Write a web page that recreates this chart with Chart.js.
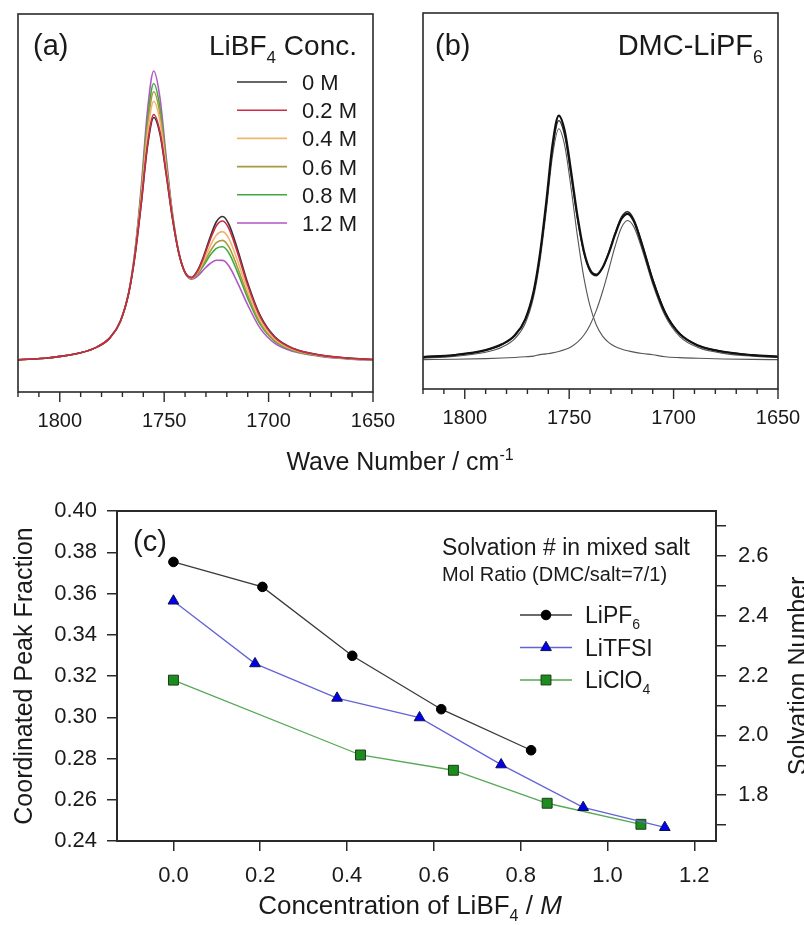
<!DOCTYPE html>
<html>
<head>
<meta charset="utf-8">
<title>DMC carbonyl band and solvation number</title>
<script src="https://cdn.jsdelivr.net/npm/chart.js@4.4.1/dist/chart.umd.min.js"></script>
<style>
  html, body { margin: 0; padding: 0; background: #fff; }
  #figure { position: relative; width: 804px; height: 925px; overflow: hidden; background: #fff; }
  #figure canvas { position: absolute; }
</style>
</head>
<body>
<div id="figure">
  <canvas id="spectraA" width="804" height="480" style="left:0;top:0"></canvas>
  <canvas id="spectraB" width="404" height="440" style="left:400px;top:0"></canvas>
  <canvas id="solvation" width="804" height="435" style="left:0;top:490px"></canvas>
</div>
<script>
// ---- data ----

// wave numbers (cm-1) where the spectra were sampled
var waveNumbers = [1820, 1805, 1790, 1782, 1776, 1771, 1767, 1764, 1761, 1758, 1755, 1752, 1749, 1746, 1743,
  1740, 1737, 1734, 1731, 1728, 1725, 1722, 1719, 1715, 1710, 1704, 1697, 1688, 1676, 1662, 1650];

// (a) absorbance (arbitrary units) for each LiBF4 concentration
var conc0M = [8.49, 9.05, 10.36, 11.94, 14.32, 18.67, 26.08, 35.95, 49.62, 64.83, 72.62, 68.17, 57.41, 45.77, 36.74,
  31.64, 30.31, 32.18, 36.11, 40.95, 45.05, 46.42, 44.36, 37.99, 28.83, 20.19, 14.60, 11.50, 9.87, 9.00, 8.60];
var conc02M = [8.49, 9.05, 10.36, 11.94, 14.32, 18.67, 26.09, 36.03, 49.92, 65.45, 73.42, 68.79, 57.71, 45.85, 36.75,
  31.63, 30.26, 32.02, 35.73, 40.23, 43.99, 45.22, 43.22, 37.07, 28.23, 19.84, 14.42, 11.42, 9.83, 8.98, 8.58];
var conc04M = [8.49, 9.05, 10.36, 11.94, 14.32, 18.67, 26.16, 36.41, 51.21, 68.18, 76.92, 71.52, 59.00, 46.23, 36.82,
  31.60, 30.15, 31.66, 34.84, 38.55, 41.53, 42.42, 40.56, 34.92, 26.83, 19.03, 14.00, 11.22, 9.74, 8.92, 8.55];
var conc06M = [8.49, 9.05, 10.36, 11.94, 14.32, 18.67, 26.20, 36.67, 52.13, 70.13, 79.42, 73.47, 59.92, 46.49, 36.86,
  31.58, 30.06, 31.36, 34.11, 37.17, 39.51, 40.12, 38.37, 33.15, 25.68, 18.36, 13.65, 11.06, 9.67, 8.87, 8.51];
var conc08M = [8.49, 9.05, 10.36, 11.94, 14.32, 18.67, 26.24, 36.90, 52.94, 71.84, 81.62, 75.18, 60.73, 46.72, 36.90,
  31.56, 29.99, 31.14, 33.57, 36.15, 38.01, 38.42, 36.76, 31.85, 24.83, 17.87, 13.40, 10.94, 9.61, 8.84, 8.49];
var conc12M = [8.49, 9.05, 10.36, 11.94, 14.32, 18.67, 26.30, 37.25, 54.16, 74.41, 84.92, 77.75, 61.95, 47.07, 36.96,
  31.52, 29.85, 30.67, 32.42, 33.99, 34.84, 34.82, 33.34, 29.08, 23.03, 16.83, 12.86, 10.69, 9.50, 8.77, 8.44];
var concLabels = ['0 M', '0.2 M', '0.4 M', '0.6 M', '0.8 M', '1.2 M'];

// (b) DMC-LiPF6: measured band, fitted sum and the two fitted peaks
var dmcMeasured = [8.50, 9.05, 10.35, 11.95, 14.30, 18.60, 26.00, 35.90, 49.60, 64.90, 72.70, 68.30, 57.50, 45.90, 36.80,
  31.70, 30.40, 32.30, 36.20, 41.10, 45.20, 46.60, 44.60, 38.10, 28.90, 20.20, 14.60, 11.50, 9.90, 9.00, 8.60];
var dmcFit = [8.48, 9.04, 10.33, 11.88, 14.21, 18.48, 25.75, 35.43, 48.83, 63.75, 71.38, 67.04, 56.51, 45.11, 36.27,
  31.29, 30.11, 32.19, 36.38, 41.46, 45.71, 47.15, 45.06, 38.60, 29.24, 20.42, 14.72, 11.57, 9.92, 9.02, 8.61];
var dmcPeak1 = [8.22, 8.67, 9.79, 11.19, 13.37, 17.47, 24.56, 34.08, 47.28, 61.95, 69.20, 64.35, 53.05, 40.46, 29.78,
  22.04, 17.01, 14.06, 12.33, 11.30, 10.63, 10.15, 9.80, 9.44, 9.11, 8.58, 8.35, 8.16, 7.99, 7.87, 7.80];
var dmcPeak2 = [7.81, 7.92, 8.09, 8.24, 8.39, 8.56, 8.74, 9.15, 9.35, 9.60, 9.98, 10.49, 11.26, 12.45, 14.29,
  17.05, 20.90, 25.93, 31.85, 37.96, 42.88, 44.80, 43.06, 36.96, 27.93, 19.39, 13.92, 10.96, 9.48, 8.70, 8.36];

// (c) coordinated peak fraction vs LiBF4 concentration (M)
var concLiPF6 = [0.0, 0.205, 0.412, 0.617, 0.824];
var fracLiPF6 = [0.3753, 0.3632, 0.3298, 0.3039, 0.2840];
var concLiTFSI = [0.0, 0.188, 0.377, 0.567, 0.755, 0.944, 1.132];
var fracLiTFSI = [0.3564, 0.3260, 0.3093, 0.2998, 0.2770, 0.2563, 0.2466];
var concLiClO4 = [0.0, 0.431, 0.645, 0.861, 1.077];
var fracLiClO4 = [0.3180, 0.2817, 0.2743, 0.2583, 0.2481];

// tick labels
var waveTicks = [1800, 1750, 1700, 1650];
var waveMinorTicks = [1820, 1810, 1800, 1790, 1780, 1770, 1760, 1750, 1740, 1730, 1720, 1710, 1700, 1690, 1680, 1670, 1660, 1650];
var concTicks = [0.0, 0.2, 0.4, 0.6, 0.8, 1.0, 1.2];
var fracTicks = [0.24, 0.26, 0.28, 0.30, 0.32, 0.34, 0.36, 0.38, 0.40];
var solvTicks = [1.8, 2.0, 2.2, 2.4, 2.6];
var solvMinorTicks = [1.7, 1.8, 1.9, 2.0, 2.1, 2.2, 2.3, 2.4, 2.5, 2.6, 2.7];

// ---- styling ----
var FONT = "'Liberation Sans', Arial, Helvetica, sans-serif";
var INK = '#1a1a1a';
var AXIS = '#2a2a2a';
var concColors = ['#333333', '#cc2a45', '#f2b56e', '#a99a3c', '#3fa93f', '#b157c6'];
// 0.2 M sits on top of the bundle, then 0 M, then the rest
var concOrder = [1, 0, 2, 3, 4, 5];

Chart.defaults.font.family = FONT;
Chart.defaults.color = INK;
Chart.defaults.animation = false;
Chart.defaults.events = [];
Chart.defaults.plugins.legend.display = false;
Chart.defaults.plugins.tooltip.enabled = false;

// text with sub/superscript and italic runs; y is the baseline
function drawRich(ctx, parts, x, y, size, align) {
  ctx.save();
  function fontFor(kind) {
    var s = (kind === 'sub' || kind === 'sup') ? Math.round(size * 0.62) : size;
    return (kind === 'i' ? 'italic ' : '') + s + 'px ' + FONT;
  }
  var w = 0;
  parts.forEach(function (p) {
    ctx.font = fontFor(p[1]);
    w += ctx.measureText(p[0]).width;
  });
  var cx = align === 'right' ? x - w : (align === 'center' ? x - w / 2 : x);
  ctx.fillStyle = INK;
  ctx.textBaseline = 'alphabetic';
  ctx.textAlign = 'left';
  parts.forEach(function (p) {
    ctx.font = fontFor(p[1]);
    var dy = p[1] === 'sub' ? size * 0.28 : (p[1] === 'sup' ? -size * 0.42 : 0);
    ctx.fillText(p[0], cx, y + dy);
    cx += ctx.measureText(p[0]).width;
  });
  ctx.restore();
}

function drawRotated(ctx, parts, cx, cy, size) {
  ctx.save();
  ctx.translate(cx, cy);
  ctx.rotate(-Math.PI / 2);
  drawRich(ctx, parts, 0, size * 0.36, size, 'center');
  ctx.restore();
}

function drawMarker(ctx, style, x, y, r, fill, edge) {
  ctx.save();
  ctx.fillStyle = fill;
  ctx.strokeStyle = edge;
  ctx.lineWidth = 1;
  ctx.beginPath();
  if (style === 'circle') {
    ctx.arc(x, y, r, 0, Math.PI * 2);
  } else if (style === 'triangle') {
    ctx.moveTo(x, y - r);
    ctx.lineTo(x + r * 0.866, y + r / 2);
    ctx.lineTo(x - r * 0.866, y + r / 2);
    ctx.closePath();
  } else {
    var h = r * Math.SQRT1_2;
    ctx.rect(x - h, y - h, 2 * h, 2 * h);
  }
  ctx.fill();
  ctx.stroke();
  ctx.restore();
}

// keep the plot boxes where the layout padding puts them
function noLabelPadding(s) {
  s.paddingLeft = 0;
  s.paddingRight = 0;
  s.paddingTop = 0;
  s.paddingBottom = 0;
}

function framePlugin(width) {
  return {
    id: 'frame',
    afterDatasetsDraw: function (chart) {
      var a = chart.chartArea, ctx = chart.ctx;
      ctx.save();
      ctx.strokeStyle = AXIS;
      ctx.lineWidth = width;
      ctx.strokeRect(a.left, a.top, a.right - a.left, a.bottom - a.top);
      ctx.restore();
    }
  };
}

// major and minor tick marks under the wave number axis
var waveTickPlugin = {
  id: 'waveTicks',
  afterDraw: function (chart) {
    var s = chart.scales.x, ctx = chart.ctx, b = chart.chartArea.bottom;
    ctx.save();
    ctx.strokeStyle = AXIS;
    ctx.lineWidth = 1.4;
    waveMinorTicks.forEach(function (v) {
      var px = s.getPixelForValue(v);
      var len = waveTicks.indexOf(v) >= 0 ? 10 : 5;
      ctx.beginPath();
      ctx.moveTo(px, b);
      ctx.lineTo(px, b + len);
      ctx.stroke();
    });
    ctx.restore();
  }
};

function spectrumChart(id, datasets, pad, axisHeight, textPlugin) {
  return new Chart(document.getElementById(id), {
    type: 'line',
    data: { datasets: datasets },
    options: {
      responsive: false,
      devicePixelRatio: 1,
      layout: { padding: pad },
      elements: {
        point: { radius: 0 },
        line: { cubicInterpolationMode: 'monotone', borderJoinStyle: 'round', fill: false }
      },
      scales: {
        x: {
          type: 'linear', reverse: true, min: 1650, max: 1820,
          afterBuildTicks: function (s) { s.ticks = waveMinorTicks.map(function (v) { return { value: v }; }); },
          afterFit: function (s) { s.height = axisHeight; noLabelPadding(s); },
          grid: { display: false, drawTicks: false },
          border: { display: false },
          ticks: {
            autoSkip: false, maxRotation: 0, padding: 17, color: INK, font: { size: 20 },
            callback: function (v) { return waveTicks.indexOf(v) >= 0 ? String(v) : ''; }
          }
        },
        y: { display: false, min: 0, max: 100 }
      }
    },
    plugins: [framePlugin(1.6), waveTickPlugin, textPlugin]
  });
}

function toPoints(values) {
  return waveNumbers.map(function (w, i) { return { x: w, y: values[i] }; });
}

// ---- (a) ----
var concSeries = [conc0M, conc02M, conc04M, conc06M, conc08M, conc12M];
spectrumChart('spectraA', concSeries.map(function (d, i) {
  return { label: concLabels[i], data: toPoints(d), borderColor: concColors[i], borderWidth: 1.6, order: concOrder[i] };
}), { left: 18, top: 14, right: 431, bottom: 0 }, 88, {
  id: 'textA',
  afterDraw: function (chart) {
    var ctx = chart.ctx, a = chart.chartArea;
    drawRich(ctx, [['(a)']], a.left + 15, 55, 29, 'left');
    drawRich(ctx, [['LiBF'], ['4', 'sub'], [' Conc.']], a.right - 16, 55, 28, 'right');
    concLabels.forEach(function (lab, i) {
      var y = 82 + i * 28.2;
      ctx.save();
      ctx.strokeStyle = concColors[i];
      ctx.lineWidth = 1.6;
      ctx.beginPath();
      ctx.moveTo(a.left + 219, y);
      ctx.lineTo(a.left + 269, y);
      ctx.stroke();
      ctx.restore();
      drawRich(ctx, [[lab]], a.left + 284, y + 8, 22, 'left');
    });
    drawRich(ctx, [['Wave Number / cm'], ['-1', 'sup']], 400, 470, 25, 'center');
  }
});

// ---- (b) ----
spectrumChart('spectraB', [
  { label: 'measured', data: toPoints(dmcMeasured), borderColor: '#111111', borderWidth: 2.2 },
  { label: 'fit', data: toPoints(dmcFit), borderColor: '#2b2b2b', borderWidth: 1.4 },
  { label: 'peak 1', data: toPoints(dmcPeak1), borderColor: '#555555', borderWidth: 1.1 },
  { label: 'peak 2', data: toPoints(dmcPeak2), borderColor: '#555555', borderWidth: 1.1 }
], { left: 23, top: 13, right: 26, bottom: 0 }, 51, {
  id: 'textB',
  afterDraw: function (chart) {
    var ctx = chart.ctx, a = chart.chartArea;
    drawRich(ctx, [['(b)']], a.left + 12, 55, 29, 'left');
    drawRich(ctx, [['DMC-LiPF'], ['6', 'sub']], a.right - 15, 55, 29, 'right');
  }
});

// ---- (c) ----
var saltSeries = [
  { name: [['LiPF'], ['6', 'sub']], conc: concLiPF6, frac: fracLiPF6, line: '#3a3a3a', fill: '#000000', edge: '#000000', style: 'circle', r: 4.8 },
  { name: [['LiTFSI']], conc: concLiTFSI, frac: fracLiTFSI, line: '#6464d6', fill: '#0000ee', edge: '#10104a', style: 'triangle', r: 6.2 },
  { name: [['LiClO'], ['4', 'sub']], conc: concLiClO4, frac: fracLiClO4, line: '#55a855', fill: '#1c8c1c', edge: '#1d3a1d', style: 'rect', r: 7 }
];

var tickGrid = { drawOnChartArea: false, drawTicks: true, tickLength: 10, color: AXIS, lineWidth: 1.5 };

new Chart(document.getElementById('solvation'), {
  type: 'line',
  data: {
    datasets: saltSeries.map(function (s) {
      return {
        data: s.conc.map(function (c, i) { return { x: c, y: s.frac[i] }; }),
        borderColor: s.line, borderWidth: 1.3, tension: 0, fill: false,
        pointStyle: s.style, pointRadius: s.r, pointBackgroundColor: s.fill,
        pointBorderColor: s.edge, pointBorderWidth: 1, yAxisID: 'y'
      };
    })
  },
  options: {
    responsive: false,
    devicePixelRatio: 1,
    layout: { padding: { top: 21, left: 0, right: 0, bottom: 0 } },
    scales: {
      x: {
        type: 'linear', min: -0.13, max: 1.25,
        afterBuildTicks: function (s) { s.ticks = concTicks.map(function (v) { return { value: v }; }); },
        afterFit: function (s) { s.height = 84; noLabelPadding(s); },
        grid: tickGrid, border: { display: false },
        ticks: { autoSkip: false, maxRotation: 0, padding: 12, color: INK, font: { size: 22 },
          callback: function (v) { return v.toFixed(1); } }
      },
      y: {
        position: 'left', min: 0.24, max: 0.40,
        afterBuildTicks: function (s) { s.ticks = fracTicks.map(function (v) { return { value: v }; }); },
        afterFit: function (s) { s.width = 117; noLabelPadding(s); },
        grid: tickGrid, border: { display: false },
        ticks: { autoSkip: false, padding: 10, color: INK, font: { size: 22 },
          callback: function (v) { return v.toFixed(2); } }
      },
      y2: {
        position: 'right', min: 1.647, max: 2.75,
        afterBuildTicks: function (s) { s.ticks = solvMinorTicks.map(function (v) { return { value: v }; }); },
        afterFit: function (s) { s.width = 88; noLabelPadding(s); },
        grid: tickGrid, border: { display: false },
        ticks: { autoSkip: false, padding: 12, color: INK, font: { size: 22 },
          callback: function (v) { return solvTicks.indexOf(v) >= 0 ? v.toFixed(1) : ''; } }
      }
    }
  },
  plugins: [framePlugin(2), {
    id: 'textC',
    afterDraw: function (chart) {
      var ctx = chart.ctx, a = chart.chartArea;
      drawRich(ctx, [['(c)']], a.left + 16, 61, 29, 'left');
      drawRich(ctx, [['Solvation # in mixed salt']], 442, 65, 23, 'left');
      drawRich(ctx, [['Mol Ratio (DMC/salt=7/1)']], 442, 91, 20, 'left');
      saltSeries.forEach(function (s, i) {
        var y = 125 + i * 32.5;
        ctx.save();
        ctx.strokeStyle = s.line;
        ctx.lineWidth = 1.3;
        ctx.beginPath();
        ctx.moveTo(520, y);
        ctx.lineTo(572, y);
        ctx.stroke();
        ctx.restore();
        drawMarker(ctx, s.style, 546, y, s.r, s.fill, s.edge);
        drawRich(ctx, s.name, 585, y + 8, 23, 'left');
      });
      drawRotated(ctx, [['Coordinated Peak Fraction']], 23, (a.top + a.bottom) / 2, 25);
      drawRotated(ctx, [['Solvation Number']], 797, (a.top + a.bottom) / 2, 25);
      drawRich(ctx, [['Concentration of LiBF'], ['4', 'sub'], [' / '], ['M', 'i']], 410, 424, 26, 'center');
    }
  }]
});
</script>
</body>
</html>
